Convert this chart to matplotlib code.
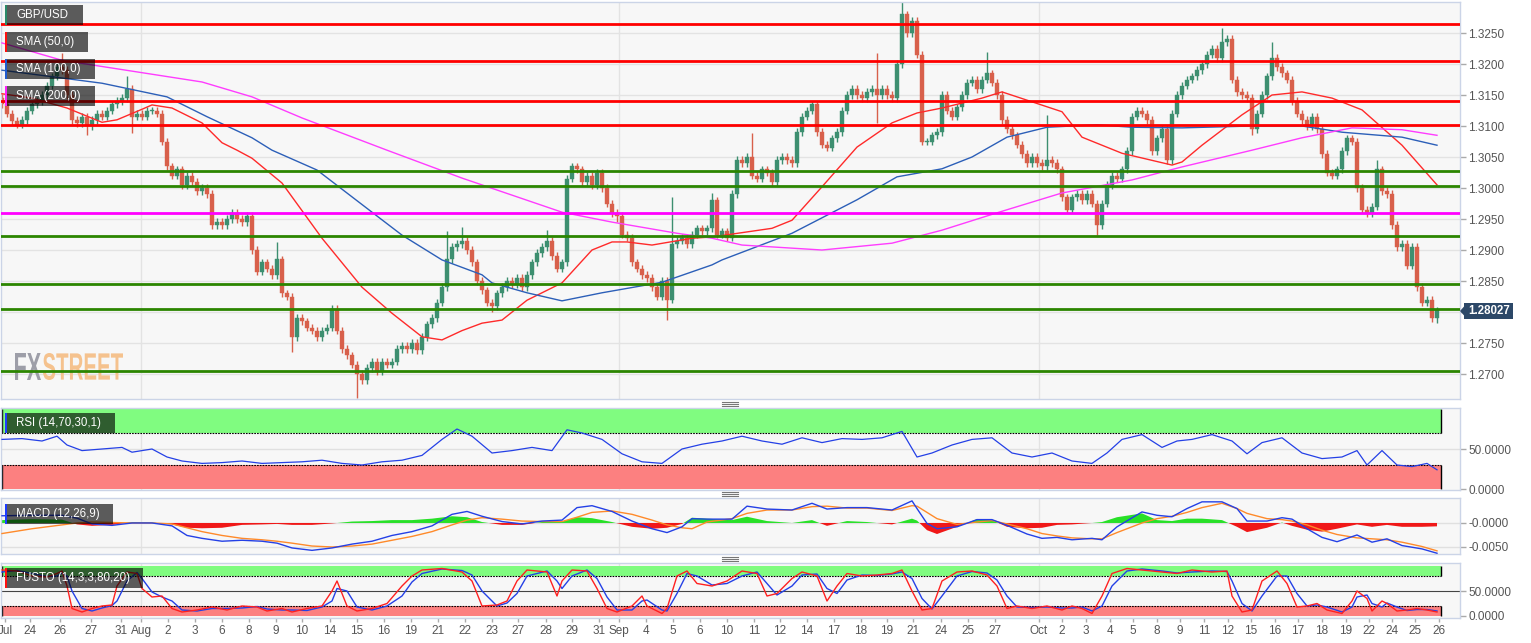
import matplotlib
matplotlib.use("Agg")
import numpy as np
import matplotlib.pyplot as plt
from matplotlib.patches import Rectangle, Polygon, PathPatch
from matplotlib.lines import Line2D
from matplotlib.textpath import TextPath
from matplotlib.font_manager import FontProperties
from matplotlib.transforms import Affine2D

plt.rcParams["font.family"] = ["Liberation Sans", "DejaVu Sans"]

W, H = 1531, 643

# ---- price data (4h candles, one per index) ----
first_open = 1.3145
closes = [
    1.3135, 1.3120, 1.3108, 1.3102, 1.3110, 1.3125, 1.3135, 1.3140, 1.3150, 1.3165,
    1.3180, 1.3195, 1.3190, 1.3150, 1.3110, 1.3105, 1.3115, 1.3100, 1.3110, 1.3120,
    1.3115, 1.3125, 1.3135, 1.3140, 1.3145, 1.3160, 1.3115, 1.3120, 1.3115, 1.3125,
    1.3125, 1.3120, 1.3075, 1.3035, 1.3020, 1.3030, 1.3005, 1.3020, 1.3010, 1.2995,
    1.3000, 1.2990, 1.2940, 1.2945, 1.2940, 1.2950, 1.2960, 1.2950, 1.2945, 1.2955,
    1.2900, 1.2865, 1.2880, 1.2870, 1.2860, 1.2885, 1.2830, 1.2825, 1.2760, 1.2790,
    1.2785, 1.2775, 1.2770, 1.2760, 1.2770, 1.2775, 1.2805, 1.2770, 1.2740, 1.2730,
    1.2715, 1.2700, 1.2690, 1.2710, 1.2720, 1.2705, 1.2720, 1.2715, 1.2720, 1.2740,
    1.2745, 1.2740, 1.2750, 1.2738, 1.2760, 1.2780, 1.2790, 1.2815, 1.2840, 1.2885,
    1.2905, 1.2910, 1.2915, 1.2900, 1.2880, 1.2850, 1.2835, 1.2815, 1.2810, 1.2830,
    1.2840, 1.2850, 1.2845, 1.2855, 1.2840, 1.2860, 1.2880, 1.2895, 1.2905, 1.2915,
    1.2890, 1.2870, 1.2880, 1.3015, 1.3035, 1.3030, 1.3010, 1.3020, 1.3005, 1.3025,
    1.3000, 1.2975, 1.2960, 1.2955, 1.2925, 1.2920, 1.2880, 1.2870, 1.2860, 1.2855,
    1.2840, 1.2825, 1.2850, 1.2820, 1.2910, 1.2915, 1.2920, 1.2910, 1.2925, 1.2935,
    1.2930, 1.2935, 1.2980, 1.2925, 1.2930, 1.2920, 1.2990, 1.3045, 1.3040, 1.3050,
    1.3020, 1.3015, 1.3030, 1.3025, 1.3010, 1.3045, 1.3050, 1.3045, 1.3040, 1.3090,
    1.3115, 1.3125, 1.3135, 1.3090, 1.3070, 1.3065, 1.3080, 1.3090, 1.3125, 1.3150,
    1.3160, 1.3150, 1.3145, 1.3155, 1.3160, 1.3150, 1.3160, 1.3150, 1.3145, 1.3200,
    1.3280, 1.3250, 1.3270, 1.3215, 1.3075, 1.3075, 1.3085, 1.3090, 1.3150, 1.3125,
    1.3115, 1.3130, 1.3150, 1.3170, 1.3175, 1.3160, 1.3175, 1.3185, 1.3170, 1.3150,
    1.3110, 1.3095, 1.3085, 1.3070, 1.3055, 1.3040, 1.3050, 1.3040, 1.3035, 1.3045,
    1.3040, 1.3030, 1.2985, 1.2965, 1.2985, 1.2990, 1.2980, 1.2990, 1.2975, 1.2940,
    1.2975, 1.3005, 1.3020, 1.3015, 1.3030, 1.3060, 1.3115, 1.3125, 1.3120, 1.3110,
    1.3060, 1.3080, 1.3095, 1.3045, 1.3120, 1.3150, 1.3165, 1.3175, 1.3180, 1.3190,
    1.3200, 1.3215, 1.3225, 1.3210, 1.3235, 1.3240, 1.3175, 1.3155, 1.3150, 1.3145,
    1.3095, 1.3120, 1.3150, 1.3180, 1.3210, 1.3195, 1.3185, 1.3175, 1.3140, 1.3120,
    1.3110, 1.3100, 1.3115, 1.3095, 1.3055, 1.3025, 1.3020, 1.3030, 1.3060, 1.3080,
    1.3075, 1.3000, 1.2965, 1.2960, 1.2970, 1.3030, 1.2995, 1.2990, 1.2940, 1.2905,
    1.2910, 1.2875, 1.2905, 1.2840, 1.2815, 1.2820, 1.2790, 1.28027,
]
spike_high = {12: 1.3218, 25: 1.3180, 55: 1.2913, 89: 1.2930, 92: 1.2937, 109: 1.2932,
              134: 1.2985, 142: 1.2992, 150: 1.3089, 175: 1.3218, 180: 1.3300, 197: 1.3219,
              209: 1.3118, 244: 1.3258, 254: 1.3235, 275: 1.3045}
spike_low = {17: 1.3085, 26: 1.3088, 58: 1.2735, 71: 1.2661, 98: 1.2800, 123: 1.2945,
             133: 1.2787, 175: 1.3105, 219: 1.2924, 250: 1.3085, 287: 1.2783}

red_levels = [1.3265, 1.3205, 1.3140, 1.3102]
green_levels = [1.3028, 1.3003, 1.2922, 1.2845, 1.2805, 1.2705]
magenta_levels = [1.2960]

sma50_x = [0, 6, 13, 20, 23, 28, 30, 34, 40, 44, 47, 50, 56, 64, 72, 78, 84, 88, 92, 96, 100,
           105, 112, 118, 122, 125, 130, 138, 142, 154, 158, 164, 171, 178, 183, 188, 196,
           200, 206, 212, 216, 224, 234, 236, 240, 248, 254, 260, 266, 272, 280, 287]
sma50_v = [1.3152, 1.3145, 1.3129, 1.3106, 1.3110, 1.3127, 1.3134, 1.3129, 1.3105, 1.3073,
           1.3061, 1.3048, 1.3008, 1.2919, 1.2840, 1.2798, 1.2760, 1.2755, 1.2770, 1.2782,
           1.2787, 1.2819, 1.2847, 1.2900, 1.2913, 1.2913, 1.2908, 1.2919, 1.2921, 1.2935,
           1.2948, 1.3002, 1.3066, 1.3105, 1.3121, 1.3129, 1.3145, 1.3155, 1.3139, 1.3123,
           1.3082, 1.3056, 1.3037, 1.3042, 1.3069, 1.3118, 1.3150, 1.3155, 1.3145, 1.3126,
           1.3069, 1.3005]
sma100_x = [0, 20, 33, 41, 50, 54, 63, 74, 80, 88, 96, 98, 105, 112, 120, 132, 142, 144,
            158, 171, 179, 188, 194, 201, 209, 219, 226, 236, 250, 260, 268, 280, 287]
sma100_v = [1.3190, 1.3169, 1.3147, 1.3115, 1.3081, 1.3061, 1.3029, 1.2961, 1.2924, 1.2884,
            1.2860, 1.2847, 1.2831, 1.2818, 1.2831, 1.2848, 1.2876, 1.2884, 1.2927, 1.2981,
            1.3018, 1.3031, 1.3050, 1.3082, 1.3098, 1.3102, 1.3098, 1.3097, 1.3100, 1.3100,
            1.3090, 1.3082, 1.3069]
sma200_x = [0, 12, 40, 50, 60, 77, 92, 96, 112, 122, 135, 142, 148, 164, 178, 188, 199,
            212, 226, 236, 250, 260, 270, 280, 287]
sma200_v = [1.3234, 1.3206, 1.3171, 1.3147, 1.3113, 1.3061, 1.3016, 1.3005, 1.2961, 1.2945,
            1.2927, 1.2919, 1.2908, 1.2900, 1.2911, 1.2932, 1.2960, 1.2992, 1.3013, 1.3034,
            1.3061, 1.3081, 1.3097, 1.3094, 1.3085]

# ---- indicators ----
rsi_x = [0, 4, 8, 11, 13, 16, 20, 24, 26, 30, 33, 36, 40, 44, 48, 52, 56, 60, 64, 68,
         72, 76, 80, 84, 88, 91, 94, 98, 102, 106, 110, 113, 116, 120, 124, 128, 132, 136,
         140, 144, 148, 152, 156, 160, 164, 168, 172, 176, 180, 183, 186, 190, 194, 198,
         202, 206, 210, 214, 218, 221, 224, 228, 232, 235, 238, 242, 246, 249, 252, 256,
         260, 264, 268, 271, 273, 276, 279, 282, 285, 287]
rsi_v = [62, 63, 60, 66, 55, 48, 50, 52, 46, 50, 40, 35, 32, 33, 35, 32, 33, 34, 36, 32,
         30, 34, 36, 42, 62, 75, 66, 45, 48, 52, 48, 74, 70, 62, 44, 34, 32, 50, 56, 60,
         66, 60, 56, 64, 58, 63, 62, 64, 72, 40, 45, 55, 62, 64, 45, 40, 45, 35, 32, 45,
         62, 68, 52, 60, 62, 68, 60, 44, 58, 64, 45, 38, 40, 48, 30, 48, 30, 28, 32, 24]

macd_x = [0, 6, 12, 15, 18, 22, 26, 30, 34, 37, 40, 44, 48, 52, 55, 58, 62, 66, 70, 74,
          78, 82, 86, 90, 93, 96, 100, 104, 108, 112, 115, 118, 122, 126, 130, 133, 136,
          138, 141, 146, 149, 153, 158, 162, 165, 169, 173, 178, 182, 183, 185, 187, 191,
          195, 198, 201, 205, 208, 211, 214, 218, 220, 223, 228, 231, 234, 237, 240, 244,
          247, 249, 253, 256, 258, 261, 264, 267, 271, 274, 277, 280, 284, 287]
macd_v = [0.0015, 0.0016, 0.0016, 0.0010, -0.0002, -0.0005, 0.0000, 0.0000, -0.0006, -0.0026,
          -0.0032, -0.0038, -0.0036, -0.0038, -0.0042, -0.0052, -0.0057, -0.0052, -0.0044, -0.0038,
          -0.0026, -0.0018, -0.0006, 0.0018, 0.0024, 0.0014, 0.0003, -0.0002, 0.0004, 0.0006,
          0.0032, 0.0036, 0.0024, 0.0004, -0.0012, -0.0020, -0.0008,
          0.0009, 0.0008, 0.0008, 0.0035, 0.0029, 0.0027, 0.0041, 0.0029, 0.0032, 0.0032,
          0.0027, 0.0046, 0.0030, -0.0001, -0.0012, -0.0008, 0.0007, 0.0007, -0.0005, -0.0023,
          -0.0032, -0.0030, -0.0035, -0.0032, -0.0035, -0.0008, 0.0023, 0.0016, 0.0013, 0.0030,
          0.0044, 0.0044, 0.0030, 0.0004, 0.0004, 0.0011, 0.0008, -0.0012, -0.0030, -0.0039,
          -0.0025, -0.0040, -0.0033, -0.0047, -0.0054, -0.0063]
signal_v = [-0.0022, -0.0012, -0.0004, 0.0000, 0.0002, 0.0001, 0.0000, 0.0000, -0.0002, -0.0010,
            -0.0018, -0.0026, -0.0032, -0.0035, -0.0038, -0.0042, -0.0048, -0.0050, -0.0048, -0.0044,
            -0.0036, -0.0028, -0.0018, -0.0004, 0.0006, 0.0011, 0.0008, 0.0004, 0.0003, 0.0003,
            0.0012, 0.0022, 0.0025, 0.0018, 0.0006, -0.0004, -0.0010,
            -0.0012, 0.0002, 0.0009, 0.0020, 0.0027, 0.0027, 0.0034, 0.0035, 0.0031, 0.0031,
            0.0026, 0.0036, 0.0035, 0.0022, 0.0009, -0.0003, 0.0002, 0.0005, -0.0002, -0.0012,
            -0.0022, -0.0027, -0.0031, -0.0033, -0.0033, -0.0020, 0.0000, 0.0009, 0.0014, 0.0022,
            0.0032, 0.0041, 0.0030, 0.0020, 0.0009, 0.0007, 0.0004, -0.0004, -0.0015, -0.0024,
            -0.0031, -0.0033, -0.0035, -0.0040, -0.0049, -0.0058]
hist_v = [0.0006, 0.0008, 0.0007, -0.0003, -0.0006, -0.0004, 0.0002, 0.0001, -0.0003, -0.0010,
          -0.0011, -0.0010, -0.0004, -0.0003, -0.0002, -0.0004, -0.0004, -0.0001, 0.0003, 0.0004,
          0.0006, 0.0006, 0.0009, 0.0014, 0.0012, 0.0002, -0.0004, -0.0004, 0.0002, 0.0003,
          0.0012, 0.0010, 0.0002, -0.0008, -0.0012, -0.0010, -0.0002,
          0.0011, 0.0009, 0.0006, 0.0013, 0.0004, 0.0000, 0.0006, -0.0006, 0.0004, 0.0002,
          -0.0003, 0.0009, 0.0005, -0.0015, -0.0023, -0.0008, 0.0008, 0.0006, -0.0008, -0.0011,
          -0.0010, -0.0004, -0.0003, 0.0000, 0.0002, 0.0012, 0.0020, 0.0006, 0.0004, 0.0009,
          0.0009, 0.0006, -0.0008, -0.0019, -0.0010, 0.0001, -0.0006, -0.0014, -0.0018, -0.0012,
          -0.0003, -0.0008, -0.0004, -0.0008, -0.0008, -0.0007]

sto_x = [0, 3, 6, 9, 11, 12, 13, 14, 16, 18, 20, 22, 23, 25, 27, 28, 30, 32, 34, 36,
         39, 42, 45, 48, 51, 53, 56, 58, 61, 64, 66, 67, 69, 71, 74, 77, 80, 82, 84, 88,
         92, 94, 96, 99, 101, 103, 105, 109, 111, 112, 114, 117, 119, 121, 123, 126, 128, 129,
         132, 133, 135, 137, 139, 142, 145, 148, 151, 153, 155, 158, 160, 163, 165, 167, 169,
         172, 175, 178, 180, 182, 184, 186, 188, 191, 194, 197, 199, 201, 203, 206, 209, 212,
         214, 216, 218, 220, 222, 225, 228, 232, 235, 238, 242, 245, 246, 248, 250, 252, 255,
         257, 259, 261, 263, 265, 268, 270, 271, 273, 274, 276, 277, 279, 281, 283, 285, 287]
sto_k = [92, 90, 80, 78, 85, 90, 60, 15, 8, 15, 20, 22, 60, 88, 85, 55, 38, 40, 15, 8,
         12, 18, 12, 20, 18, 10, 15, 8, 15, 20, 50, 70, 20, 10, 15, 25, 60, 80, 92, 95,
         88, 70, 20, 22, 30, 70, 92, 88, 40, 70, 92, 90, 55, 15, 8, 20, 40, 20,
         5, 15, 80, 90, 65, 60, 70, 90, 85, 40, 45, 75, 88, 80, 30, 60, 85,
         80, 82, 85, 92, 50, 12, 15, 70, 88, 90, 82, 60, 15, 20, 15, 20, 12,
         20, 15, 5, 40, 85, 95, 92, 88, 85, 92, 88, 90, 40, 8, 12, 70, 90,
         65, 18, 20, 25, 12, 5, 30, 50, 35, 10, 30, 25, 10, 12, 15, 12, 8]
sto_d = [88, 91, 85, 79, 80, 86, 80, 50, 15, 10, 16, 21, 30, 70, 87, 75, 48, 38, 30, 12,
         10, 15, 15, 16, 19, 14, 12, 12, 11, 18, 30, 55, 50, 18, 12, 20, 40, 68, 85, 94,
         91, 82, 50, 20, 26, 45, 80, 90, 70, 55, 80, 92, 75, 38, 12, 12, 30, 32,
         12, 10, 45, 85, 80, 62, 65, 80, 88, 65, 42, 60, 82, 84, 55, 45, 72,
         82, 81, 84, 88, 75, 35, 14, 40, 80, 89, 86, 72, 40, 18, 17, 18, 16,
         16, 18, 10, 20, 60, 90, 94, 90, 86, 88, 90, 89, 70, 25, 10, 40, 80,
         80, 45, 20, 22, 18, 8, 18, 38, 42, 25, 18, 26, 18, 11, 13, 13, 10]

tick_pos = [0.6, 5.6, 11.6, 17.8, 23.8, 27.8, 33.2, 38.6, 44.0, 49.4, 54.8, 60.0, 65.6, 71.0,
            76.4, 81.8, 87.2, 92.6, 98.0, 103.2, 108.8, 114.0, 119.4, 123.4, 128.8, 134.2,
            139.6, 145.0, 150.4, 155.6, 161.0, 166.4, 171.8, 177.0, 182.2, 187.8, 193.2,
            198.6, 207.4, 212.0, 216.8, 221.6, 226.2, 231.0, 235.6, 240.4, 245.2, 249.8,
            254.6, 259.2, 264.0, 268.8, 273.4, 278.0, 282.6, 287.4]
tick_lab = ["Jul", "24", "26", "27", "31", "Aug", "2", "3", "6", "8", "9", "10", "14", "15",
            "16", "19", "21", "22", "23", "27", "28", "29", "31", "Sep", "4", "5",
            "6", "10", "11", "12", "14", "17", "18", "19", "21", "24", "25",
            "27", "Oct", "2", "3", "4", "5", "8", "9", "11", "12", "15",
            "16", "17", "18", "19", "22", "24", "25", "26"]
month_pos = [27.8, 123.4, 207.4]

GREEN_C = "#3d8f70"
RED_C = "#d8604b"
LAB = "#555555"
XMAX = 287.8

fig = plt.figure(figsize=(W / 100, H / 100), dpi=100)
fig.patch.set_facecolor("white")


def panel(top, bottom):
    ax = fig.add_axes([1 / W, 1 - bottom / H, 1459 / W, (bottom - top) / H])
    ax.set_facecolor("#f7f7f7")
    for s in ax.spines.values():
        s.set_color("#cbd4e7")
        s.set_linewidth(1)
    ax.set_xlim(-0.2, 291.6)
    ax.yaxis.tick_right()
    ax.tick_params(axis="y", length=4, width=1, color="#aaaaaa", labelcolor=LAB,
                   labelsize=8.5, pad=2)
    ax.tick_params(axis="x", length=0, labelbottom=False)
    for m in month_pos:
        ax.axvline(m, color="#e3e3e3", lw=1, zorder=0)
    return ax


# ---- main price panel ----
ax = panel(2, 399)
ax.set_ylim(1.26597, 1.3300)
yt = np.round(np.arange(1.2700, 1.32501, 0.005), 4)
ax.set_yticks(yt)
# the 1.2800 label sits under the last-price tag
ax.set_yticklabels(["" if abs(v - 1.28) < 1e-6 else f"{v:.4f}" for v in yt])
for v in yt:
    ax.axhline(v, color="#e3e3e3", lw=1, zorder=0)

opens = [first_open] + closes[:-1]
for i, (o, c) in enumerate(zip(opens, closes)):
    col = GREEN_C if c >= o else RED_C
    hi = spike_high.get(i, max(o, c) + 0.0006)
    lo = spike_low.get(i, min(o, c) - 0.0006)
    ax.vlines(i, lo, hi, color=col, lw=1, zorder=2)
    ax.bar(i, max(abs(c - o), 0.00012), bottom=min(o, c), width=0.62, color=col,
           edgecolor=col, lw=0.3, zorder=2)

ax.plot(sma50_x, sma50_v, color="#ff2a2a", lw=1, zorder=3)
ax.plot(sma100_x, sma100_v, color="#2c5fb8", lw=1, zorder=3)
ax.plot(sma200_x, sma200_v, color="#ff3cff", lw=1, zorder=3)
for lv in red_levels:
    ax.axhline(lv, color="#ff0000", lw=2, zorder=4)
for lv in green_levels:
    ax.axhline(lv, color="#2b8500", lw=2, zorder=4)
for lv in magenta_levels:
    ax.axhline(lv, color="#ff00ff", lw=2, zorder=4)


def watermark(txt, x0, x1, ytop, ybot, color):
    tp = TextPath((0, 0), txt, size=10,
                  prop=FontProperties(family="Liberation Sans", weight="bold"))
    bb = tp.get_extents()
    sx = (x1 - x0) / 1459 / bb.width
    sy = (ybot - ytop) / 397 / bb.height
    tr = (Affine2D().translate(-bb.x0, -bb.y0).scale(sx, sy)
          .translate((x0 - 1) / 1459, (399 - ybot) / 397) + ax.transAxes)
    ax.add_patch(PathPatch(tp, transform=tr, facecolor=color, edgecolor="none", zorder=1))


watermark("FX", 15, 41, 353, 380, "#9d9ea8")
watermark("STREET", 43, 123, 353, 380, "#f5c28e")


def bands(a, lo_top, hi_bot, top):
    a.fill_between([-0.2, XMAX], hi_bot, top, color="#80fc80", lw=0, zorder=1)
    a.fill_between([-0.2, XMAX], 0, lo_top, color="#fc8080", lw=0, zorder=1)
    a.hlines([hi_bot, lo_top], -0.2, XMAX, colors="black", lw=0.8, linestyles=(0, (1.5, 1)),
             zorder=2)
    for xe in (0, XMAX):
        a.vlines([xe, xe], [hi_bot, 0], [top, lo_top], colors="black", lw=1, zorder=2)


# ---- RSI ----
ar = panel(408, 490)
ar.set_ylim(-1.25, 101.25)
ar.set_yticks([0, 50])
ar.set_yticklabels(["0.0000", "50.0000"])
ar.axhline(50, color="#e0e0e0", lw=1, zorder=0)
bands(ar, 30, 70, 100)
ar.plot(rsi_x, rsi_v, color="#2440e6", lw=0.9, zorder=3)

# ---- MACD ----
am = panel(498, 554)
am.set_ylim(-0.00646, 0.0052)
am.set_yticks([-0.005, 0])
am.set_yticklabels(["-0.0050", "-0.0000"])
am.axhline(0, color="#e0e0e0", lw=1, zorder=0)
am.axhline(-0.005, color="#e0e0e0", lw=1, zorder=0)
hx = np.array(macd_x, dtype=float)
hv = np.array(hist_v)
am.fill_between(hx, 0, hv, where=hv >= 0, interpolate=True, color="#28e028", lw=0, zorder=2)
am.fill_between(hx, 0, hv, where=hv <= 0, interpolate=True, color="#f01818", lw=0, zorder=2)
am.plot(macd_x, signal_v, color="#ff8a2a", lw=1, zorder=3)
am.plot(macd_x, macd_v, color="#2440e6", lw=1, zorder=3)

# ---- FUSTO ----
af = panel(563, 618)
af.set_ylim(-4, 106)
af.set_yticks([0, 50])
af.set_yticklabels(["0.0000", "50.0000"])
bands(af, 20, 80, 100)
af.axhline(50, color="#444444", lw=0.8, zorder=2)
af.plot(sto_x, sto_d, color="#2440e6", lw=1, zorder=3)
af.plot(sto_x, sto_k, color="#ff2020", lw=1, zorder=3)
af.set_xticks(tick_pos)
af.set_xticklabels(tick_lab)
af.tick_params(axis="x", length=3, width=1, color="#aaaaaa", labelbottom=True,
               labelcolor=LAB, labelsize=8.5, pad=2)


# ---- overlay boxes (figure pixel coords) ----
def fx(px):
    return px / W


def fy(py):
    return 1 - py / H


def legend_box(x0, y0, x1, y1, strip, text):
    fig.add_artist(Rectangle((fx(x0), fy(y1)), (x1 - x0) / W, (y1 - y0) / H,
                             transform=fig.transFigure, facecolor=(0, 0, 0, 0.63),
                             edgecolor="none", zorder=10))
    fig.add_artist(Rectangle((fx(x0), fy(y1)), 2.2 / W, (y1 - y0) / H,
                             transform=fig.transFigure, facecolor=strip,
                             edgecolor="none", zorder=11))
    fig.text(fx(16), fy((y0 + y1) / 2), text, color="white", fontsize=8.3,
             va="center", ha="left", zorder=12)


legend_box(5, 5, 83, 25, "#2a8a6a", "GBP/USD")
legend_box(5, 32, 88, 52, "#ff1010", "SMA (50,0)")
legend_box(5, 59, 95, 79, "#1f5bd0", "SMA (100,0)")
legend_box(5, 86, 95, 106, "#ff20ff", "SMA (200,0)")
legend_box(5, 413, 115, 433, "#1e3cff", "RSI (14,70,30,1)")
legend_box(5, 504, 113, 524, "#1e3cff", "MACD (12,26,9)")
legend_box(5, 568, 143, 588, "#ff1010", "FUSTO (14,3,3,80,20)")

# last price tag
fig.add_artist(Rectangle((fx(1464), fy(319)), 49 / W, 16 / H, transform=fig.transFigure,
                         facecolor="#2c4868", edgecolor="none", zorder=10))
fig.add_artist(Polygon([[fx(1460), fy(311)], [fx(1464.5), fy(306)], [fx(1464.5), fy(316)]],
                       closed=True, transform=fig.transFigure, facecolor="#2c4868",
                       edgecolor="none", zorder=10))
fig.text(fx(1489), fy(311), f"{closes[-1]:.5f}", color="white", fontsize=8.3,
         fontweight="bold", ha="center", va="center", zorder=12)

# panel resize handles
for yc in (404, 494, 559):
    for dy in (-2, 0, 2):
        fig.add_artist(Line2D([fx(722), fx(738)], [fy(yc + dy), fy(yc + dy)],
                              transform=fig.transFigure, color="#777777", lw=0.8, zorder=10))

fig.savefig("out.png", dpi=100, facecolor="white")
